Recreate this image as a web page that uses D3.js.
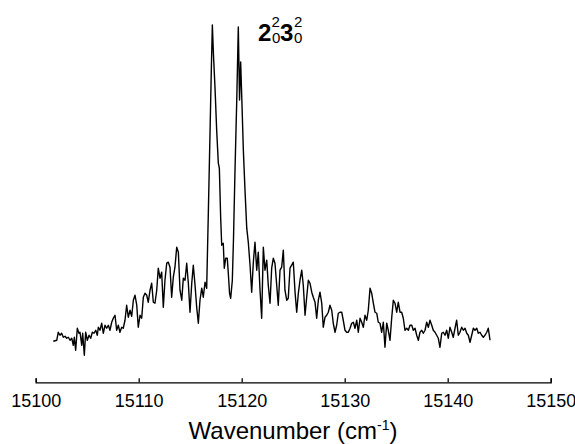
<!DOCTYPE html>
<html>
<head>
<meta charset="utf-8">
<script src="https://cdn.jsdelivr.net/npm/d3@7"></script>
<style>
  body { margin: 0; background: #fff; }
  svg { display: block; font-family: Arial, "Liberation Sans", sans-serif; }
</style>
</head>
<body>
<svg id="chart" width="575" height="444"></svg>
<script>
// wavenumber (cm-1) of each sample
var wavenumbers = [
  15101.71, 15102.04, 15102.19, 15102.36, 15102.52, 15102.68, 15102.85, 15103.01, 15103.17, 15103.33,
  15103.50, 15103.65, 15103.75, 15103.88, 15104.04, 15104.20, 15104.30, 15104.47, 15104.56, 15104.72,
  15104.85, 15105.01, 15105.18, 15105.34, 15105.50, 15105.66, 15105.83, 15105.98, 15106.08, 15106.24,
  15106.41, 15106.56, 15106.73, 15106.89, 15107.05, 15107.21, 15107.38, 15107.53, 15107.70, 15107.86,
  15108.02, 15108.18, 15108.35, 15108.50, 15108.67, 15108.83, 15108.99, 15109.16, 15109.32, 15109.48,
  15109.64, 15109.81, 15109.96, 15110.13, 15110.29, 15110.45, 15110.61, 15110.78, 15110.93, 15111.10,
  15111.26, 15111.42, 15111.58, 15111.75, 15111.90, 15112.07, 15112.23, 15112.39, 15112.55, 15112.72,
  15112.87, 15113.04, 15113.20, 15113.36, 15113.52, 15113.69, 15113.85, 15114.01, 15114.18, 15114.33,
  15114.50, 15114.66, 15114.82, 15114.98, 15115.15, 15115.30, 15115.47, 15115.63, 15115.79, 15115.95,
  15116.12, 15116.27, 15116.44, 15116.60, 15116.76, 15116.92, 15117.05, 15117.15, 15117.26, 15117.41,
  15117.57, 15117.73, 15117.83, 15117.96, 15118.06, 15118.21, 15118.31, 15118.45, 15118.60, 15118.70,
  15118.82, 15118.93, 15119.09, 15119.20, 15119.35, 15119.52, 15119.67, 15119.79, 15119.90, 15120.03,
  15120.16, 15120.32, 15120.49, 15120.64, 15120.81, 15120.97, 15121.13, 15121.29, 15121.46, 15121.61,
  15121.78, 15121.94, 15122.10, 15122.26, 15122.43, 15122.58, 15122.75, 15122.91, 15123.07, 15123.23,
  15123.40, 15123.55, 15123.72, 15123.88, 15124.04, 15124.20, 15124.37, 15124.52, 15124.69, 15124.85,
  15125.01, 15125.18, 15125.34, 15125.50, 15125.66, 15125.83, 15125.98, 15126.15, 15126.31, 15126.47,
  15126.63, 15126.80, 15126.95, 15127.12, 15127.28, 15127.44, 15127.60, 15127.77, 15127.92, 15128.09,
  15128.25, 15128.41, 15128.57, 15128.74, 15128.89, 15129.06, 15129.22, 15129.38, 15129.54, 15129.71,
  15129.86, 15130.03, 15130.19, 15130.35, 15130.52, 15130.68, 15130.84, 15131.00, 15131.17, 15131.32,
  15131.49, 15131.65, 15131.81, 15131.97, 15132.14, 15132.29, 15132.46, 15132.62, 15132.78, 15132.94,
  15133.11, 15133.26, 15133.43, 15133.59, 15133.75, 15133.91, 15134.08, 15134.23, 15134.40, 15134.56,
  15134.72, 15134.88, 15135.05, 15135.20, 15135.37, 15135.53, 15135.69, 15135.85, 15136.02, 15136.18,
  15136.34, 15136.51, 15136.66, 15136.83, 15136.99, 15137.15, 15137.31, 15137.48, 15137.63, 15137.80,
  15137.96, 15138.12, 15138.28, 15138.45, 15138.60, 15138.77, 15138.93, 15139.09, 15139.25, 15139.42,
  15139.57, 15139.74, 15139.90, 15140.06, 15140.22, 15140.39, 15140.54, 15140.71, 15140.87, 15141.03,
  15141.19, 15141.36, 15141.52, 15141.68, 15141.85, 15142.00, 15142.17, 15142.33, 15142.49, 15142.65,
  15142.82, 15142.97, 15143.14, 15143.30, 15143.46, 15143.62, 15143.79, 15143.94, 15144.11
];

// signal, arbitrary units
var signal = [
  41, 42, 50, 47, 49, 45, 46, 44, 45, 42,
  44, 37, 45, 32, 54, 49, 50, 37, 49, 27,
  50, 42, 47, 44, 50, 49, 52, 47, 55, 52,
  59, 49, 57, 54, 57, 52, 60, 64, 67, 52,
  57, 50, 55, 54, 62, 77, 65, 72, 66, 82,
  87, 77, 55, 67, 64, 85, 89, 87, 80, 92,
  99, 80, 79, 92, 114, 104, 110, 75, 102, 119,
  120, 115, 85, 105, 115, 135, 130, 92, 82, 104,
  102, 119, 99, 70, 99, 117, 97, 75, 59, 82,
  94, 85, 100, 94, 169, 247, 312, 357, 327, 294,
  252, 219, 214, 164, 137, 139, 114, 124, 124, 109,
  89, 84, 102, 142, 212, 282, 355, 282, 320, 277,
  232, 192, 154, 140, 117, 90, 120, 140, 112, 130,
  92, 64, 135, 112, 122, 97, 79, 114, 124, 119,
  97, 77, 112, 115, 132, 92, 82, 84, 114, 117,
  120, 90, 70, 89, 102, 112, 97, 67, 85, 102,
  99, 90, 85, 80, 64, 82, 90, 79, 55, 65,
  67, 70, 77, 72, 59, 50, 57, 69, 70, 70,
  62, 52, 50, 50, 54, 59, 60, 54, 62, 50,
  64, 60, 55, 67, 62, 72, 94, 89, 79, 70,
  69, 60, 59, 50, 60, 35, 59, 52, 42, 64,
  82, 79, 70, 80, 70, 70, 64, 52, 54, 52,
  57, 57, 52, 54, 47, 42, 50, 52, 49, 52,
  60, 55, 62, 57, 52, 50, 47, 44, 35, 49,
  50, 47, 52, 44, 55, 50, 45, 54, 62, 47,
  50, 55, 52, 54, 49, 47, 40, 47, 54, 52,
  54, 49, 50, 47, 45, 47, 50, 54, 42
];

var xTicks = [15100, 15110, 15120, 15130, 15140, 15150];

var svg = d3.select('#chart');

var x = d3.scaleLinear().domain([15100, 15150]).range([35.7, 550.7]);
var y = d3.scaleLinear().domain([0, 357]).range([382.3, 25]);

var points = wavenumbers.map(function(w, i) { return [w, signal[i]]; });

var line = d3.line()
  .x(function(d) { return x(d[0]); })
  .y(function(d) { return y(d[1]); });

svg.append('path')
  .datum(points)
  .attr('d', line)
  .attr('fill', 'none')
  .attr('stroke', '#000')
  .attr('stroke-width', 1.4)
  .attr('stroke-linejoin', 'round');

// x axis, ticks pointing up
var axis = svg.append('g')
  .attr('transform', 'translate(0,382.3)')
  .call(d3.axisBottom(x)
    .tickValues(xTicks)
    .tickFormat(d3.format('d'))
    .tickSizeInner(-4)
    .tickSizeOuter(-4)
    .tickPadding(12.4));

axis.select('.domain').attr('stroke', '#000').attr('stroke-width', 1.3);
axis.selectAll('.tick line').attr('stroke', '#000').attr('stroke-width', 1.3);
axis.selectAll('.tick text')
  .attr('fill', '#000')
  .style('font-size', '18px')
  .style('font-family', 'Arial, "Liberation Sans", sans-serif');

// axis title
var title = svg.append('text')
  .attr('x', 293)
  .attr('y', 439)
  .attr('text-anchor', 'middle')
  .style('font-size', '24px');
title.append('tspan').text('Wavenumber (cm');
title.append('tspan').attr('dy', -9).style('font-size', '14px').text('-1');
title.append('tspan').attr('dy', 9).text(')');

// band label 2(0,2) 3(0,2)
var label = svg.append('g');
label.append('text').attr('x', 258).attr('y', 40.7)
  .style('font-size', '24px').style('font-weight', 'bold').text('2');
label.append('text').attr('x', 271.5).attr('y', 27)
  .style('font-size', '15px').text('2');
label.append('text').attr('x', 272).attr('y', 43.3)
  .style('font-size', '15px').text('0');
label.append('text').attr('x', 280).attr('y', 40.7)
  .style('font-size', '24px').style('font-weight', 'bold').text('3');
label.append('text').attr('x', 294).attr('y', 27)
  .style('font-size', '15px').text('2');
label.append('text').attr('x', 294).attr('y', 43.3)
  .style('font-size', '15px').text('0');
</script>
</body>
</html>
